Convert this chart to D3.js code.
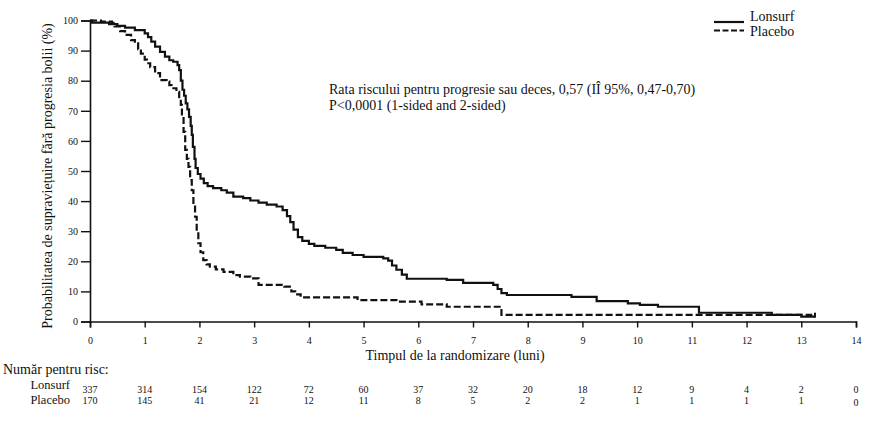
<!DOCTYPE html>
<html>
<head>
<meta charset="utf-8">
<script src="https://cdn.jsdelivr.net/npm/d3@7"></script>
<style>
  body { margin: 0; background: #fff; }
  svg { display: block; }
  text { font-family: "Liberation Serif", "Times New Roman", serif; fill: #111; }
</style>
</head>
<body>
<svg id="chart" width="878" height="421"></svg>
<script>
// ---- Data ----
const seriesNames = ["Lonsurf", "Placebo"];

const lonsurfTime = [0, 0.04, 0.35, 0.5, 0.64, 0.82, 1.0, 1.06, 1.12, 1.19, 1.28, 1.37, 1.45, 1.52, 1.6, 1.63, 1.66, 1.69, 1.72, 1.75, 1.78, 1.81, 1.84, 1.86, 1.88, 1.91, 1.93, 1.97, 2.02, 2.08, 2.15, 2.25, 2.4, 2.5, 2.62, 2.8, 2.93, 3.08, 3.23, 3.41, 3.52, 3.6, 3.66, 3.72, 3.8, 3.88, 4.0, 4.1, 4.3, 4.5, 4.62, 4.8, 5.0, 5.36, 5.45, 5.52, 5.6, 5.7, 5.79, 6.52, 6.82, 7.37, 7.45, 7.52, 7.62, 8.8, 9.26, 9.83, 10.05, 10.38, 11.13, 12.46, 13.0, 13.25];
const lonsurfValue = [100, 99.3, 98.8, 98.2, 97.6, 96.8, 95.7, 94.5, 93, 91.3, 89.6, 88, 86.8, 86.3, 85.2, 83.5, 80, 77, 75, 72.5, 70.5, 68, 65, 62, 58, 54, 51, 49, 47.5, 46, 45, 44.3, 43.6, 42.8, 41.5, 41, 40.2, 39.5, 38.8, 38.2, 37, 35, 33, 30.5, 28, 26.8, 25.8, 25.1, 24.5, 23.8, 22.8, 22.1, 21.5, 21.0, 20.2, 18.6, 17.2, 15.6, 14.2, 13.8, 12.8, 12.2, 10.8, 9.4, 8.8, 8.2, 6.8, 6.0, 5.5, 4.9, 2.9, 2.2, 1.6, 1.6];

const placeboTime = [0, 0.2, 0.4, 0.45, 0.55, 0.64, 0.75, 0.82, 0.88, 0.93, 1.0, 1.04, 1.1, 1.19, 1.28, 1.4, 1.45, 1.49, 1.58, 1.63, 1.66, 1.68, 1.71, 1.74, 1.77, 1.8, 1.83, 1.86, 1.89, 1.92, 1.95, 1.98, 2.02, 2.07, 2.13, 2.19, 2.3, 2.44, 2.62, 2.74, 2.93, 3.08, 3.55, 3.68, 3.75, 3.85, 4.89, 5.6, 6.06, 6.52, 7.52, 13.2];
const placeboValue = [100, 99.6, 99.2, 98, 96.5, 95.2, 93.5, 92.4, 90.5, 89, 87, 85.8, 84.5, 82.5, 80.2, 79.7, 78.5, 77.5, 76.3, 74.5, 72, 68, 63, 57, 54, 51.4, 47, 43.6, 39, 34.8, 30, 26, 23, 20.4, 19, 18.2, 17.3, 16.5, 15.4, 14.9, 14.3, 12.2, 11.6, 10, 9.0, 8.0, 7.1, 6.6, 5.7, 4.9, 2.2, 2.2];

const xTicks = [0,1,2,3,4,5,6,7,8,9,10,11,12,13,14];
const yTicks = [0,10,20,30,40,50,60,70,80,90,100];

const riskTimes = [0,1,2,3,4,5,6,7,8,9,10,11,12,13,14];
const riskLonsurf = [337,314,154,122,72,60,37,32,20,18,12,9,4,2,0];
const riskPlacebo = [170,145,41,21,12,11,8,5,2,2,1,1,1,1,0];

const annotationLines = [
  "Rata riscului pentru progresie sau deces, 0,57 (IÎ 95%, 0,47-0,70)",
  "P<0,0001 (1-sided and 2-sided)"
];
const yLabel = "Probabilitatea de supraviețuire fără progresia bolii (%)";
const xLabel = "Timpul de la randomizare (luni)";
const riskTitle = "Număr pentru risc:";

// ---- Layout ----
const svg = d3.select("#chart");
const mLeft = 90, mRight = 856, mTop = 20.5, mBottom = 321.5;
const x = d3.scaleLinear().domain([0, 14]).range([mLeft, mRight]);
const y = d3.scaleLinear().domain([0, 100]).range([mBottom, mTop]);

// Axes
const xAxis = svg.append("g").attr("transform", `translate(0,${mBottom})`)
  .call(d3.axisBottom(x).tickValues(xTicks).tickSize(6).tickFormat(d3.format("d")));
const yAxis = svg.append("g").attr("transform", `translate(${mLeft},0)`)
  .call(d3.axisLeft(y).tickValues(yTicks).tickSize(9).tickFormat(d3.format("d")));
[xAxis, yAxis].forEach(g => {
  g.select(".domain").attr("stroke", "#111").attr("stroke-width", 1.6);
  g.selectAll(".tick line").attr("stroke", "#111").attr("stroke-width", 1.4);
  g.selectAll(".tick text").attr("font-size", 10).attr("fill", "#222")
    .style("font-family", "'Liberation Serif', serif");
});
xAxis.selectAll(".tick text").attr("dy", 0).attr("y", 22);
yAxis.selectAll(".tick text").attr("x", -12);

// Curves
const line = d3.line().x(d => x(d[0])).y(d => y(d[1])).curve(d3.curveStepAfter);
const lonsurf = lonsurfTime.map((t, i) => [t, lonsurfValue[i]]);
const placebo = placeboTime.map((t, i) => [t, placeboValue[i]]);

svg.append("path").datum(placebo).attr("d", line)
  .attr("fill", "none").attr("stroke", "#111").attr("stroke-width", 2.2)
  .attr("stroke-dasharray", "7,3");
svg.append("path").datum(lonsurf).attr("d", line)
  .attr("fill", "none").attr("stroke", "#111").attr("stroke-width", 2.2);

// Censor mark at end of Lonsurf
const lastL = lonsurf[lonsurf.length - 1];
svg.append("line")
  .attr("x1", x(lastL[0])).attr("x2", x(lastL[0]))
  .attr("y1", y(lastL[1]) - 4).attr("y2", y(lastL[1]) + 1)
  .attr("stroke", "#111").attr("stroke-width", 2);

// Legend
const legend = svg.append("g");
seriesNames.forEach((name, i) => {
  const ly = 22 + i * 8.5;
  legend.append("line").attr("x1", 714).attr("x2", 744).attr("y1", ly).attr("y2", ly)
    .attr("stroke", "#111").attr("stroke-width", 2.2)
    .attr("stroke-dasharray", i === 1 ? "6,2.5" : null);
  legend.append("text").attr("x", 750).attr("y", 21 + i * 14.5)
    .attr("font-size", 14).text(name);
});

// Annotation
annotationLines.forEach((t, i) => {
  svg.append("text").attr("x", 329).attr("y", 94 + i * 16).attr("font-size", 14).text(t);
});

// Axis titles
svg.append("text").attr("transform", `translate(52,${(mTop + mBottom) / 2 + 5}) rotate(-90)`)
  .attr("text-anchor", "middle").attr("font-size", 14).text(yLabel);
svg.append("text").attr("x", (mLeft + mRight) / 2 - 18).attr("y", 360)
  .attr("text-anchor", "middle").attr("font-size", 14).text(xLabel);

// Risk table
svg.append("text").attr("x", 3).attr("y", 374).attr("font-size", 14).text(riskTitle);
svg.append("text").attr("x", 70).attr("y", 389).attr("text-anchor", "end")
  .attr("font-size", 12.5).text(seriesNames[0]);
svg.append("text").attr("x", 70).attr("y", 403.5).attr("text-anchor", "end")
  .attr("font-size", 12.5).text(seriesNames[1]);
riskTimes.forEach((t, i) => {
  svg.append("text").attr("x", x(t)).attr("y", 393).attr("text-anchor", "middle")
    .attr("font-size", 10).attr("fill", "#222").text(riskLonsurf[i]);
  svg.append("text").attr("x", x(t)).attr("y", i === riskTimes.length - 1 ? 406 : 404)
    .attr("text-anchor", "middle").attr("font-size", 10).attr("fill", "#222").text(riskPlacebo[i]);
});
</script>
</body>
</html>
